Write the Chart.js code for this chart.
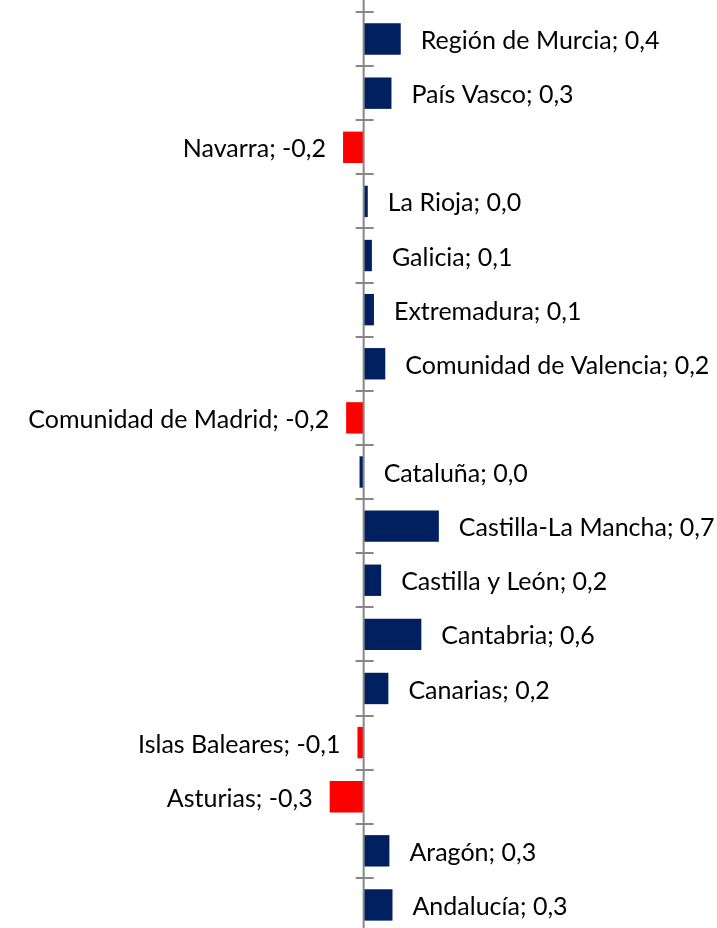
<!DOCTYPE html>
<html>
<head>
<meta charset="utf-8">
<script src="https://cdn.jsdelivr.net/npm/chart.js@4.4.0/dist/chart.umd.min.js"></script>
<style>
  html, body { margin: 0; padding: 0; background: #fff; overflow: hidden; }
  #wrap { position: relative; width: 717px; height: 944px; }
</style>
</head>
<body>
<div id="wrap"><canvas id="chart"></canvas></div>
<script>
(function () {
  'use strict';

  // regions, top to bottom
  var regions = [
    'Región de Murcia', 'País Vasco', 'Navarra', 'La Rioja', 'Galicia',
    'Extremadura', 'Comunidad de Valencia', 'Comunidad de Madrid', 'Cataluña',
    'Castilla-La Mancha', 'Castilla y León', 'Cantabria', 'Canarias',
    'Islas Baleares', 'Asturias', 'Aragón', 'Andalucía'
  ];
  var values = [
    0.36, 0.27, -0.20, 0.04, 0.08,
    0.10, 0.21, -0.17, -0.04,
    0.73, 0.17, 0.56, 0.24,
    -0.06, -0.33, 0.25, 0.28
  ];
  var xMin = -3.53;
  var xMax = 3.43;

  var navy = '#002060';
  var red = '#ff0000';
  var axisGrey = '#878787';
  var font = "Lato, 'Open Sans', sans-serif";

  function fmt(v) {
    var s = v.toFixed(1).replace('.', ',');
    return s === '-0,0' ? '0,0' : s;
  }
  function shownNegative(v) {
    return fmt(v).charAt(0) === '-';
  }

  var axisPlugin = {
    id: 'crossAxis',
    afterDatasetsDraw: function (chart) {
      var ctx = chart.ctx;
      var area = chart.chartArea;
      var x0 = chart.scales.x.getPixelForValue(0);
      var n = regions.length;
      var step = (area.bottom - area.top) / n;
      ctx.save();
      ctx.strokeStyle = axisGrey;
      ctx.lineWidth = 2;
      ctx.beginPath();
      ctx.moveTo(x0, 0);
      ctx.lineTo(x0, chart.height);
      for (var i = 0; i <= n; i++) {
        var y = Math.round(area.top + i * step);
        ctx.moveTo(x0 - 8, y);
        ctx.lineTo(x0 + 10, y);
      }
      ctx.stroke();
      ctx.restore();
    }
  };

  var labelPlugin = {
    id: 'barLabels',
    afterDatasetsDraw: function (chart) {
      var ctx = chart.ctx;
      var meta = chart.getDatasetMeta(0);
      ctx.save();
      ctx.font = '25px ' + font;
      ctx.fillStyle = '#000';
      ctx.textBaseline = 'middle';
      meta.data.forEach(function (bar, i) {
        var v = values[i];
        var text = regions[i] + '; ' + fmt(v);
        if (shownNegative(v)) {
          ctx.textAlign = 'right';
          ctx.fillText(text, Math.min(bar.x, bar.base) - 17, bar.y + 2);
        } else {
          ctx.textAlign = 'left';
          ctx.fillText(text, Math.max(bar.x, bar.base) + 20, bar.y + 2);
        }
      });
      ctx.restore();
    }
  };

  new Chart(document.getElementById('chart'), {
    type: 'bar',
    data: {
      labels: regions,
      datasets: [{
        data: values,
        backgroundColor: values.map(function (v) { return shownNegative(v) ? red : navy; }),
        borderWidth: 0,
        barPercentage: 0.58,
        categoryPercentage: 1
      }]
    },
    options: {
      indexAxis: 'y',
      responsive: true,
      maintainAspectRatio: false,
      animation: false,
      layout: { padding: { top: 12, bottom: 12, left: 0, right: 0 } },
      plugins: {
        legend: { display: false },
        tooltip: { enabled: false }
      },
      scales: {
        x: { display: false, min: xMin, max: xMax },
        y: { display: false }
      }
    },
    plugins: [axisPlugin, labelPlugin]
  });
})();
</script>
</body>
</html>
